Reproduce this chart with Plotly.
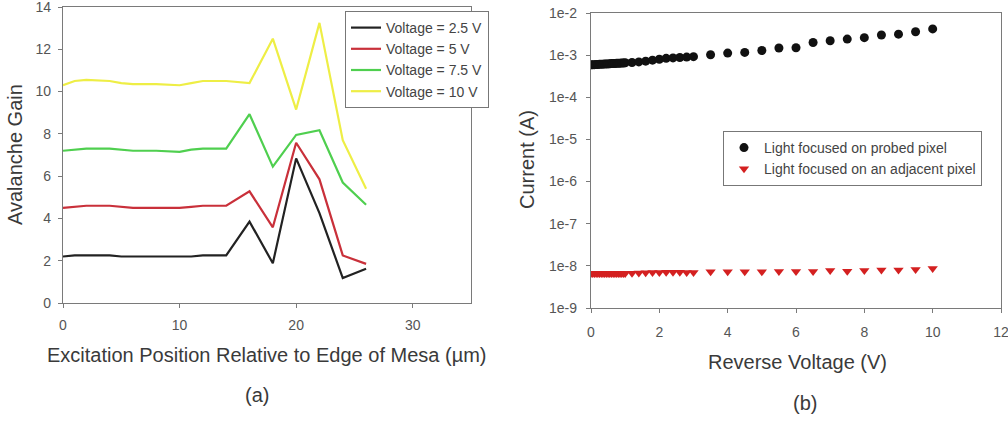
import plotly.graph_objects as go

# ---------- Panel (a) data ----------
position_um = [0, 1, 2, 4, 5, 6, 8, 10, 11, 12, 14, 16, 18, 20, 22, 24, 26]
gain_2p5V = [2.2, 2.25, 2.25, 2.25, 2.2, 2.2, 2.2, 2.2, 2.2, 2.25, 2.25, 3.85, 1.88, 6.84, 4.25, 1.18, 1.62]
gain_5V = [4.5, 4.55, 4.6, 4.6, 4.55, 4.5, 4.5, 4.5, 4.55, 4.6, 4.6, 5.28, 3.58, 7.58, 5.85, 2.25, 1.85]
gain_7p5V = [7.2, 7.25, 7.3, 7.3, 7.25, 7.2, 7.2, 7.15, 7.25, 7.3, 7.3, 8.93, 6.45, 7.95, 8.17, 5.7, 4.65]
gain_10V = [10.3, 10.5, 10.55, 10.5, 10.4, 10.35, 10.35, 10.3, 10.4, 10.5, 10.5, 10.4, 12.5, 9.15, 13.25, 7.7, 5.4]
series_a_names = ["Voltage = 2.5 V", "Voltage = 5 V", "Voltage = 7.5 V", "Voltage = 10 V"]
series_a_colors = ["#222222", "#c9303a", "#4fcf4f", "#eeee45"]

# ---------- Panel (b) data ----------
reverse_voltage = [0.0, 0.05, 0.1, 0.15, 0.2, 0.25, 0.3, 0.35, 0.4, 0.45, 0.5,
                   0.55, 0.6, 0.65, 0.7, 0.75, 0.8, 0.85, 0.9, 0.95, 1.0,
                   1.2, 1.4, 1.6, 1.8, 2.0, 2.2, 2.4, 2.6, 2.8, 3.0,
                   3.5, 4.0, 4.5, 5.0, 5.5, 6.0, 6.5, 7.0, 7.5, 8.0, 8.5, 9.0, 9.5, 10.0]
current_probed = [5.9e-4, 5.9e-4, 5.95e-4, 6.0e-4, 6.0e-4, 6.05e-4, 6.1e-4, 6.1e-4, 6.15e-4, 6.2e-4, 6.2e-4,
                  6.25e-4, 6.3e-4, 6.3e-4, 6.35e-4, 6.4e-4, 6.4e-4, 6.45e-4, 6.5e-4, 6.5e-4, 6.6e-4,
                  6.7e-4, 6.9e-4, 7.2e-4, 7.6e-4, 8.0e-4, 8.4e-4, 8.6e-4, 8.8e-4, 9.0e-4, 9.2e-4,
                  1.02e-3, 1.12e-3, 1.16e-3, 1.29e-3, 1.48e-3, 1.5e-3, 2.0e-3, 2.2e-3, 2.4e-3, 2.6e-3,
                  3.0e-3, 3.15e-3, 3.6e-3, 4.2e-3]
current_adjacent = [6.6e-9, 6.6e-9, 6.6e-9, 6.6e-9, 6.6e-9, 6.6e-9, 6.6e-9, 6.6e-9, 6.6e-9, 6.6e-9, 6.6e-9,
                    6.6e-9, 6.6e-9, 6.6e-9, 6.6e-9, 6.6e-9, 6.6e-9, 6.6e-9, 6.6e-9, 6.6e-9, 6.6e-9,
                    6.7e-9, 6.8e-9, 6.9e-9, 7.0e-9, 7.0e-9, 7.1e-9, 7.1e-9, 7.1e-9, 7.0e-9, 7.0e-9,
                    7.2e-9, 7.2e-9, 7.2e-9, 7.2e-9, 7.3e-9, 7.3e-9, 7.3e-9, 7.8e-9, 7.4e-9, 7.8e-9,
                    8.0e-9, 8.0e-9, 8.2e-9, 8.7e-9]
log_tickvals = [1e-9, 1e-8, 1e-7, 1e-6, 1e-5, 1e-4, 1e-3, 1e-2]
log_ticktext = ["1e-9", "1e-8", "1e-7", "1e-6", "1e-5", "1e-4", "1e-3", "1e-2"]

FONT = "Liberation Sans, Arial, sans-serif"
W, H = 1008, 429

fig = go.Figure()

for ys, name, col in zip([gain_2p5V, gain_5V, gain_7p5V, gain_10V], series_a_names, series_a_colors):
    fig.add_trace(go.Scatter(x=position_um, y=ys, mode="lines", name=name,
                             line=dict(color=col, width=2.2), xaxis="x", yaxis="y",
                             legend="legend"))

fig.add_trace(go.Scatter(x=reverse_voltage, y=current_probed, mode="markers",
                         name="Light focused on probed pixel",
                         marker=dict(symbol="circle", size=9, color="#111111"),
                         xaxis="x2", yaxis="y2", legend="legend2"))
fig.add_trace(go.Scatter(x=reverse_voltage, y=current_adjacent, mode="markers",
                         name="Light focused on an adjacent pixel",
                         marker=dict(symbol="triangle-down", size=9, color="#d42020"),
                         xaxis="x2", yaxis="y2", legend="legend2"))


def axis_style(standoff):
    return dict(showline=True, linecolor="#7a7a7a", linewidth=1.3, mirror=True,
                ticks="outside", ticklen=4, tickcolor="#7a7a7a", showgrid=False,
                zeroline=False, ticklabelstandoff=standoff, automargin=False,
                ticklabeloverflow="allow",
                tickfont=dict(family=FONT, size=14, color="#555555"))


fig.update_layout(
    width=W, height=H,
    margin=dict(l=0, r=0, t=0, b=0, autoexpand=False),
    paper_bgcolor="white", plot_bgcolor="white",
    font=dict(family=FONT, color="#444444"),
    xaxis=dict(domain=[63 / W, 471 / W], range=[0, 35], tickvals=[0, 10, 20, 30],
               anchor="y", **axis_style(5)),
    yaxis=dict(domain=[1 - 303 / H, 1 - 7 / H], range=[0, 14], dtick=2,
               anchor="x", **axis_style(4)),
    xaxis2=dict(domain=[591 / W, 1001 / W], range=[0, 12], dtick=2,
                anchor="y2", **axis_style(7)),
    yaxis2=dict(domain=[1 - 308 / H, 1 - 13 / H], type="log", range=[-9, -2],
                tickvals=log_tickvals, ticktext=log_ticktext,
                anchor="x2", **axis_style(6)),
    legend=dict(x=345 / W, y=1 - 11 / H, xanchor="left", yanchor="top",
                bgcolor="white", bordercolor="#777777", borderwidth=1,
                font=dict(family=FONT, size=14, color="#444444"),
                tracegroupgap=0, itemwidth=30),
    legend2=dict(x=723 / W, y=1 - 131 / H, xanchor="left", yanchor="top",
                 bgcolor="white", bordercolor="#777777", borderwidth=1,
                 font=dict(family=FONT, size=14, color="#444444"),
                 tracegroupgap=0),
    showlegend=True,
)

annots = [
    dict(text="Avalanche Gain", x=15 / W, y=1 - 155 / H, textangle=-90, size=20),
    dict(text="Current (A)", x=527 / W, y=1 - 160 / H, textangle=-90, size=20),
    dict(text="Excitation Position Relative to Edge of Mesa (µm)", x=267 / W, y=1 - 355 / H, textangle=0, size=20),
    dict(text="Reverse Voltage (V)", x=797 / W, y=1 - 362 / H, textangle=0, size=20),
    dict(text="(a)", x=257 / W, y=1 - 395 / H, textangle=0, size=20),
    dict(text="(b)", x=805 / W, y=1 - 403 / H, textangle=0, size=20),
]
for a in annots:
    fig.add_annotation(text=a["text"], x=a["x"], y=a["y"], xref="paper", yref="paper",
                       xanchor="center", yanchor="middle", showarrow=False,
                       textangle=a["textangle"],
                       font=dict(family=FONT, size=a["size"], color="#3a3a3a"))

fig.write_html("out.html")
